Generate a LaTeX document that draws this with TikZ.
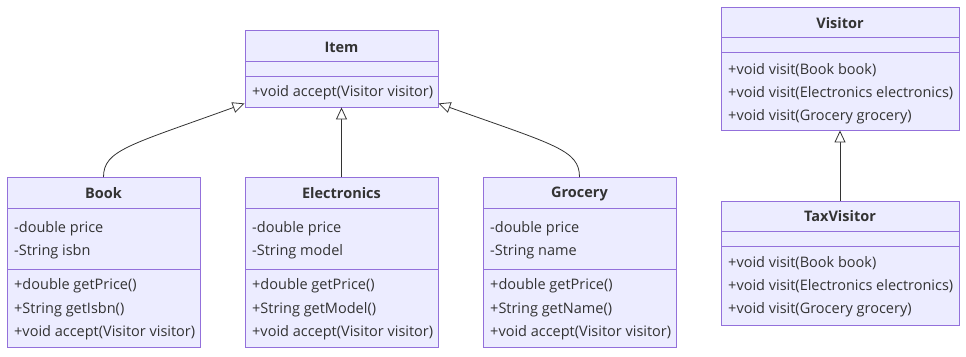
\documentclass[tikz,border=0pt]{standalone}
\usepackage{fontspec}
\setmainfont{Open Sans}
\usetikzlibrary{arrows.meta}
\definecolor{boxfill}{HTML}{ECECFF}
\definecolor{boxline}{HTML}{9370DB}
\definecolor{edgeline}{HTML}{333333}
\tikzset{
  classbox/.style={draw=boxline, fill=boxfill, line width=0.9pt, inner sep=0pt},
  sepline/.style={draw=boxline, line width=0.9pt},
  title/.style={font=\fontsize{14.5}{16}\selectfont\bfseries, text=edgeline, anchor=center},
  member/.style={font=\fontsize{14.5}{16}\selectfont, text=edgeline, anchor=west, inner sep=0pt},
  inherit/.style={draw=edgeline, line width=0.8pt,
    -{Triangle[open, length=12pt, width=11pt, fill=white]}}
}
\begin{document}
\begin{tikzpicture}[x=1pt, y=-1pt]
    \useasboundingbox (0,0) rectangle (966,356);

    % Class boxes
    \node[classbox, minimum width=193pt, minimum height=77pt] (item) at (341.5,68.5) {};
    \node[classbox, minimum width=193pt, minimum height=170pt] (book) at (103.5,262.5) {};
    \node[classbox, minimum width=193pt, minimum height=170pt] (elec) at (341.5,262.5) {};
    \node[classbox, minimum width=193pt, minimum height=170pt] (groc) at (579.5,262.5) {};
    \node[classbox, minimum width=238pt, minimum height=123pt] (visitor) at (840,68.5) {};
    \node[classbox, minimum width=238pt, minimum height=124pt] (taxv) at (840,263) {};

    % Compartment separators
    \draw[sepline] (245,61.5) -- (438,61.5) (245,76) -- (438,76);
    \foreach \x in {7,245,483}
        \draw[sepline] (\x,208) -- (\x+193,208) (\x,269) -- (\x+193,269);
    \draw[sepline] (721,37) -- (959,37) (721,52) -- (959,52);
    \draw[sepline] (721,231) -- (959,231) (721,246) -- (959,246);

    % Item
    \node[title] (itemT) at (341.5,47.5) {Item};
    \node[member] (itemM1) at (252,93) {+void accept(Visitor visitor)};

    % Book
    \node[title] (bookT) at (103.5,193.5) {Book};
    \node[member] (bookA1) at (14,229) {-double price};
    \node[member] (bookA2) at (14,252) {-String isbn};
    \node[member] (bookM1) at (14,286) {+double getPrice()};
    \node[member] (bookM2) at (14,310) {+String getIsbn()};
    \node[member] (bookM3) at (14,333) {+void accept(Visitor visitor)};

    % Electronics
    \node[title] (elecT) at (341.5,193.5) {Electronics};
    \node[member] (elecA1) at (252,229) {-double price};
    \node[member] (elecA2) at (252,252) {-String model};
    \node[member] (elecM1) at (252,286) {+double getPrice()};
    \node[member] (elecM2) at (252,310) {+String getModel()};
    \node[member] (elecM3) at (252,333) {+void accept(Visitor visitor)};

    % Grocery
    \node[title] (grocT) at (579.5,193.5) {Grocery};
    \node[member] (grocA1) at (490,229) {-double price};
    \node[member] (grocA2) at (490,252) {-String name};
    \node[member] (grocM1) at (490,286) {+double getPrice()};
    \node[member] (grocM2) at (490,310) {+String getName()};
    \node[member] (grocM3) at (490,333) {+void accept(Visitor visitor)};

    % Visitor
    \node[title] (visitorT) at (840,23.5) {Visitor};
    \node[member] (visitorM1) at (728,70) {+void visit(Book book)};
    \node[member] (visitorM2) at (728,93) {+void visit(Electronics electronics)};
    \node[member] (visitorM3) at (728,117) {+void visit(Grocery grocery)};

    % TaxVisitor
    \node[title] (taxvT) at (840,216.5) {TaxVisitor};
    \node[member] (taxvM1) at (728,263) {+void visit(Book book)};
    \node[member] (taxvM2) at (728,286) {+void visit(Electronics electronics)};
    \node[member] (taxvM3) at (728,310) {+void visit(Grocery grocery)};

    % Inheritance
    \draw[inherit] (book.north) .. controls (103.5,150) and (130,145) .. ([yshift=4pt]item.south west);
    \draw[inherit] (elec.north) -- (item.south);
    \draw[inherit] (groc.north) .. controls (579.5,150) and (555,145) .. ([yshift=4pt]item.south east);
    \draw[inherit] (taxv.north) -- (visitor.south);
\end{tikzpicture}
\end{document}
